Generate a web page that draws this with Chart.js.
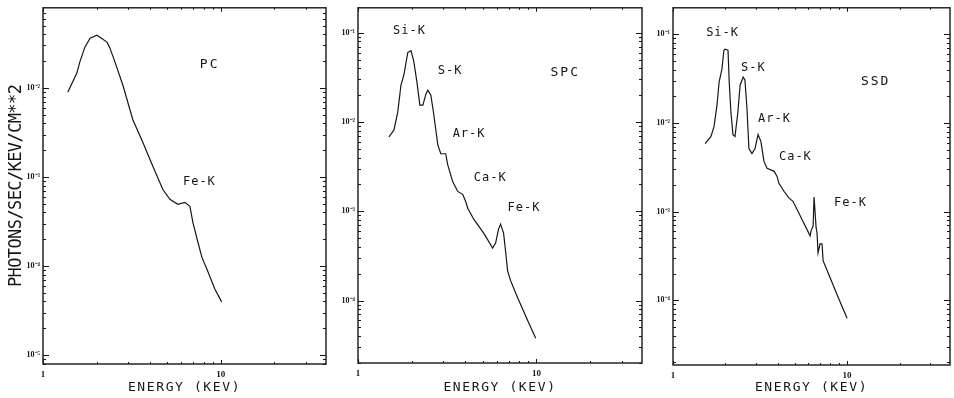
<!DOCTYPE html>
<html><head><meta charset="utf-8">
<script src="https://cdn.jsdelivr.net/npm/chart.js@4/dist/chart.umd.min.js"></script>
<style>
html,body{margin:0;padding:0;background:#fff;width:954px;height:398px;overflow:hidden}
canvas{position:absolute;top:0}
</style></head><body>
<canvas id="c1" width="330" height="398" style="left:0px"></canvas>
<canvas id="c2" width="316" height="398" style="left:330px"></canvas>
<canvas id="c3" width="308" height="398" style="left:646px"></canvas>
<script>
// ---- data (energy in keV, flux in photons/sec/keV/cm**2) ----
const pcEnergy = [1.38,1.55,1.61,1.72,1.84,2.01,2.29,2.38,2.54,2.81,3.20,3.65,4.15,4.72,5.17,5.73,6.28,6.70,6.96,7.43,7.82,8.34,9.25,10.1];
const pcFlux = [9.0e-3,1.47e-2,1.95e-2,2.87e-2,3.62e-2,3.91e-2,3.27e-2,2.80e-2,1.95e-2,1.08e-2,4.39e-3,2.43e-3,1.31e-3,7.24e-4,5.61e-4,4.93e-4,5.19e-4,4.68e-4,3.10e-4,1.85e-4,1.26e-4,9.25e-5,5.53e-5,3.96e-5];

const spcEnergy = [1.49,1.59,1.67,1.74,1.81,1.90,1.98,2.05,2.14,2.22,2.31,2.40,2.46,2.56,2.66,2.80,2.91,3.10,3.18,3.39,3.62,3.86,4.01,4.12,4.45,5.06,5.68,5.90,6.13,6.29,6.54,6.71,6.89,7.16,7.83,8.91,9.9];
const spcFlux = [6.8e-3,8.15e-3,1.29e-2,2.58e-2,3.41e-2,6.0e-2,6.31e-2,4.89e-2,2.78e-2,1.55e-2,1.55e-2,2.05e-2,2.27e-2,2.0e-2,1.20e-2,5.55e-3,4.41e-3,4.41e-3,3.33e-3,2.15e-3,1.67e-3,1.55e-3,1.29e-3,1.08e-3,8.15e-4,5.70e-4,3.88e-4,4.41e-4,6.31e-4,7.18e-4,5.70e-4,3.59e-4,2.15e-4,1.67e-4,1.08e-4,6.0e-5,3.79e-5];

const ssdEnergy = [1.53,1.65,1.72,1.79,1.84,1.91,1.96,1.99,2.07,2.10,2.15,2.21,2.27,2.36,2.43,2.53,2.59,2.66,2.73,2.84,2.96,3.08,3.20,3.33,3.47,3.81,3.96,4.06,4.34,4.64,4.89,6.13,6.21,6.38,6.46,6.64,6.72,6.81,6.99,7.18,7.28,7.99,8.88,10.0];
const ssdFlux = [5.86e-3,7.03e-3,9.10e-3,1.60e-2,2.90e-2,4.05e-2,6.62e-2,6.79e-2,6.62e-2,3.13e-2,1.34e-2,7.40e-3,7.03e-3,1.34e-2,2.69e-2,3.30e-2,3.05e-2,1.45e-2,5.15e-3,4.53e-3,5.15e-3,7.40e-3,6.18e-3,3.69e-3,3.08e-3,2.85e-3,2.50e-3,2.09e-3,1.70e-3,1.42e-3,1.31e-3,5.33e-4,6.07e-4,6.90e-4,1.46e-3,6.55e-4,5.75e-4,3.44e-4,4.34e-4,4.34e-4,2.80e-4,1.80e-4,1.08e-4,6.27e-5];

// ---- ticks and labels ----
const xTicks = [1, 10];
const xTickLabels = ['1', '10'];
const xTitle = 'ENERGY (KEV)';
const yTitle = 'PHOTONS/SEC/KEV/CM**2';
const pcYTicks = [1e-5, 1e-4, 1e-3, 1e-2];
const pcYTickLabels = ['10\u207B\u2075', '10\u207B\u2074', '10\u207B\u00B3', '10\u207B\u00B2'];
const spcYTicks = [1e-4, 1e-3, 1e-2, 1e-1];
const spcYTickLabels = ['10\u207B\u2074', '10\u207B\u00B3', '10\u207B\u00B2', '10\u207B\u00B9'];
const ssdYTicks = [1e-4, 1e-3, 1e-2, 1e-1];
const ssdYTickLabels = ['10\u207B\u2074', '10\u207B\u00B3', '10\u207B\u00B2', '10\u207B\u00B9'];

// ---- annotations (text, energy, flux) ----
const pcNotes = ['PC', 'Fe-K'];
const pcNoteEnergy = [7.62, 6.12];
const pcNoteFlux = [0.0181, 8.9e-4];
const spcNotes = ['Si-K', 'S-K', 'SPC', 'Ar-K', 'Ca-K', 'Fe-K'];
const spcNoteEnergy = [1.57, 2.80, 11.98, 3.39, 4.45, 6.89];
const spcNoteFlux = [0.105, 0.0378, 0.0359, 7.36e-3, 2.39e-3, 1.08e-3];
const ssdNotes = ['Si-K', 'S-K', 'SSD', 'Ar-K', 'Ca-K', 'Fe-K'];
const ssdNoteEnergy = [1.55, 2.46, 12.0, 3.08, 4.06, 8.42];
const ssdNoteFlux = [0.103, 0.0416, 0.0290, 0.0112, 4.2e-3, 1.25e-3];

const INK = '#161616';
const X_MAX = 39;

const frameTicks = {
  id: 'frameTicks',
  afterDraw(chart) {
    const {ctx, chartArea: a, scales: {x, y}} = chart;
    ctx.save();
    ctx.strokeStyle = INK;
    ctx.lineWidth = 1.4;
    ctx.strokeRect(a.left, a.top, a.right - a.left, a.bottom - a.top);
    ctx.lineWidth = 1;
    ctx.beginPath();
    const e0 = Math.floor(Math.log10(y.min)), e1 = Math.ceil(Math.log10(y.max));
    for (let e = e0; e <= e1; e++) for (let m = 1; m <= 9; m++) {
      const v = m * Math.pow(10, e);
      if (v < y.min || v > y.max) continue;
      const p = Math.round(y.getPixelForValue(v)) + 0.5;
      const L = m === 1 ? 6 : 3;
      ctx.moveTo(a.left, p); ctx.lineTo(a.left + L, p);
      ctx.moveTo(a.right, p); ctx.lineTo(a.right - L, p);
    }
    for (let e = 0; e <= 1; e++) for (let m = 1; m <= 9; m++) {
      const v = m * Math.pow(10, e);
      if (v < x.min || v > x.max) continue;
      const p = Math.round(x.getPixelForValue(v)) + 0.5;
      const L = m === 1 ? 4 : 2;
      ctx.moveTo(p, a.bottom); ctx.lineTo(p, a.bottom - L);
      ctx.moveTo(p, a.top); ctx.lineTo(p, a.top + L);
    }
    ctx.stroke();
    ctx.restore();
  }
};

const notesPlugin = {
  id: 'notes',
  afterDatasetsDraw(chart, args, opts) {
    const {ctx, scales: {x, y}} = chart;
    ctx.save();
    ctx.fillStyle = INK;
    ctx.textAlign = 'left';
    ctx.textBaseline = 'middle';
    opts.texts.forEach((t, i) => {
      const big = i === opts.bigIndex;
      ctx.font = (big ? '13px' : '12px') + ' "DejaVu Sans Mono"';
      ctx.letterSpacing = big ? '2px' : '1px';
      ctx.fillText(t, x.getPixelForValue(opts.energy[i]), y.getPixelForValue(opts.flux[i]));
    });
    ctx.restore();
  }
};

const spacing = {
  id: 'spacing',
  beforeDraw(chart) {
    Object.values(chart.scales).forEach(s => {
      if (s._spPatched) return;
      s._spPatched = true;
      const orig = s.drawTitle.bind(s);
      const ls = s.axis === 'y' ? '-0.6px' : '1.6px';
      s.drawTitle = function () {
        const c = this.ctx;
        const prev = c.letterSpacing;
        c.letterSpacing = ls;
        orig();
        c.letterSpacing = prev;
      };
    });
  }
};

function makeChart(id, energy, flux, c) {
  return new Chart(document.getElementById(id), {
    type: 'line',
    data: {
      datasets: [{
        data: energy.map((e, i) => ({x: e, y: flux[i]})),
        borderColor: INK, borderWidth: 1.2, pointRadius: 0, tension: 0, fill: false
      }]
    },
    plugins: [spacing, frameTicks, notesPlugin],
    options: {
      responsive: false, animation: false, events: [],
      layout: {padding: {top: c.padTop, right: c.padRight, left: 0, bottom: 0}},
      plugins: {
        legend: {display: false}, tooltip: {enabled: false},
        notes: {texts: c.notes, energy: c.noteEnergy, flux: c.noteFlux, bigIndex: c.bigIndex}
      },
      scales: {
        x: {
          type: 'logarithmic', min: 1, max: X_MAX, bounds: 'data',
          afterBuildTicks: s => { s.ticks = xTicks.map(v => ({value: v})); },
          afterFit: s => { s.height = c.xHeight; },
          grid: {display: false, drawTicks: false}, border: {display: false},
          ticks: {autoSkip: false, maxRotation: 0, padding: 5, color: INK,
            font: {family: 'Liberation Serif', size: 9, weight: 'bold'},
            callback: (v, i) => xTickLabels[i]},
          title: {display: true, text: xTitle, color: INK,
            font: {family: 'DejaVu Sans Mono', size: 13}, padding: {top: 0, bottom: 3}}
        },
        y: {
          type: 'logarithmic', min: c.yMin, max: c.yMax, bounds: 'data',
          afterBuildTicks: s => { s.ticks = c.yTicks.map(v => ({value: v})); },
          afterFit: s => { s.width = c.yWidth; },
          grid: {display: false, drawTicks: false}, border: {display: false},
          ticks: {autoSkip: false, padding: 3, color: INK,
            font: {family: 'Liberation Serif', size: 8, weight: 'bold'},
            callback: (v, i) => c.yTickLabels[i]},
          title: {display: !!c.yTitle, text: c.yTitle || '', color: INK,
            font: {family: 'DejaVu Sans Mono', size: 17}, padding: {top: 6, bottom: 0}}
        }
      }
    }
  });
}

makeChart('c1', pcEnergy, pcFlux, {
  padTop: 7, padRight: 4, xHeight: 34, yWidth: 43,
  yMin: Math.pow(10, -5.1), yMax: Math.pow(10, -1.1),
  yTicks: pcYTicks, yTickLabels: pcYTickLabels, yTitle: yTitle,
  notes: pcNotes, noteEnergy: pcNoteEnergy, noteFlux: pcNoteFlux, bigIndex: 0
});
makeChart('c2', spcEnergy, spcFlux, {
  padTop: 5, padRight: 4, xHeight: 35, yWidth: 28,
  yMin: Math.pow(10, -4.7), yMax: Math.pow(10, -0.72),
  yTicks: spcYTicks, yTickLabels: spcYTickLabels, yTitle: '',
  notes: spcNotes, noteEnergy: spcNoteEnergy, noteFlux: spcNoteFlux, bigIndex: 2
});
makeChart('c3', ssdEnergy, ssdFlux, {
  padTop: 5, padRight: 4, xHeight: 33, yWidth: 27,
  yMin: Math.pow(10, -4.73), yMax: Math.pow(10, -0.70),
  yTicks: ssdYTicks, yTickLabels: ssdYTickLabels, yTitle: '',
  notes: ssdNotes, noteEnergy: ssdNoteEnergy, noteFlux: ssdNoteFlux, bigIndex: 2
});
</script>
</body></html>
